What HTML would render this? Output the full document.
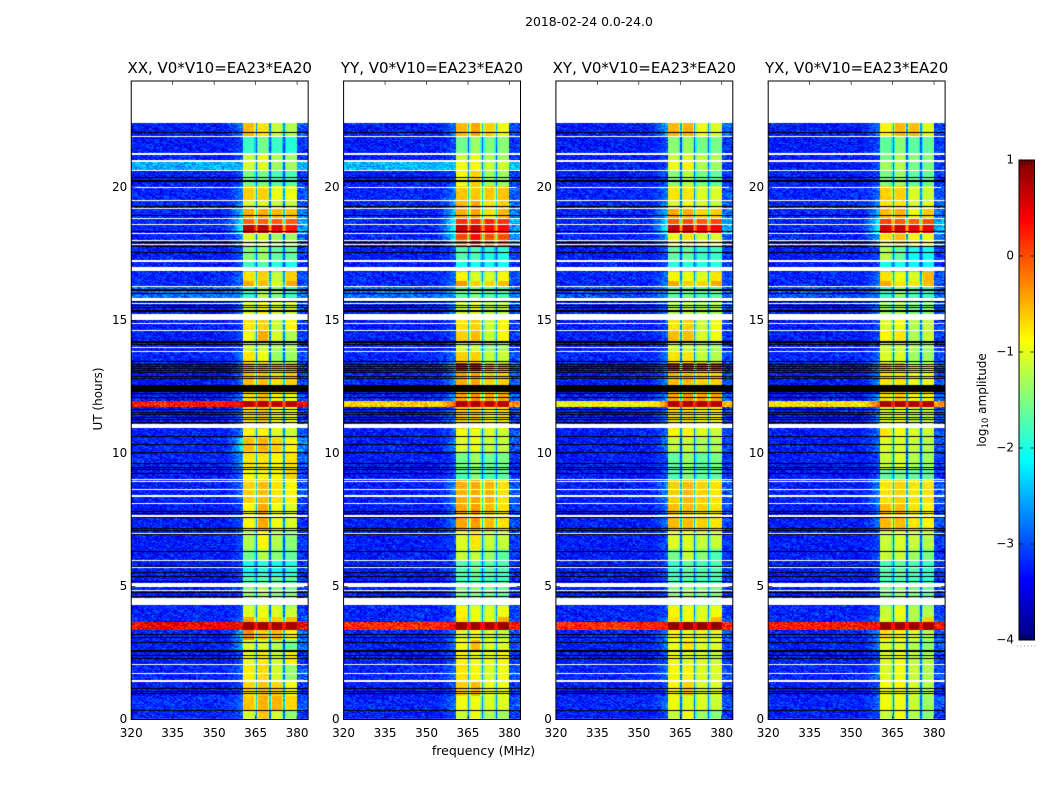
<!DOCTYPE html>
<html lang="en">
<head>
<meta charset="utf-8">
<title>2018-02-24 0.0-24.0 spectrogram</title>
<style>
  html, body { margin: 0; padding: 0; background: #fff; }
  #figure { position: relative; width: 1050px; height: 800px; overflow: hidden; background: #fff; }
  #figure canvas { position: absolute; display: block; }
  #overlay { position: absolute; left: 0; top: 0; }
  text { font-family: "DejaVu Sans", "Liberation Sans", sans-serif; fill: #000; }
</style>
</head>
<body>
<div id="figure">
  <svg id="overlay" width="1050" height="800" viewBox="0 0 1050 800">
    <text x="589" y="26" font-size="12.4" text-anchor="middle">2018-02-24 0.0-24.0</text>
    <text x="483.5" y="755" font-size="12.5" text-anchor="middle">frequency (MHz)</text>
    <text x="0" y="0" font-size="12" text-anchor="middle" transform="translate(102 399) rotate(-90)">UT (hours)</text>
    <text x="0" y="0" font-size="12" text-anchor="middle" transform="translate(986 400) rotate(-90)">log<tspan font-size="8.5" dy="2">10</tspan><tspan dy="-2"> amplitude</tspan></text>
  </svg>
</div>
<script>
// ---------- chart data ----------
const panelTitles = ['XX, V0*V10=EA23*EA20', 'YY, V0*V10=EA23*EA20', 'XY, V0*V10=EA23*EA20', 'YX, V0*V10=EA23*EA20'];
const freqTicks = [320, 335, 350, 365, 380];
const timeTicks = [0, 5, 10, 15, 20];
const colorTicks = [1, 0, -1, -2, -3, -4];
const channelGaps = [365.3, 370.4, 375.4];
// upper hour of every time band, top of the plot downwards
const bandTops = [22.42,21.90,21.26,20.96,20.62,20.06,19.49,19.19,18.82,18.59,18.25,17.80,17.20,16.82,16.49,16.26,15.77,15.02,14.60,14.19,13.82,13.40,13.14,12.58,12.27,11.97,11.75,10.92,10.58,10.09,9.38,9.00,8.10,7.09,6.41,5.96,5.43,4.98,4.27,3.85,3.67,3.36,2.99,2.54,2.05,1.45,0.88,0.32];
// log10 amplitude per band: background, band-edge tail, sub-band 1..4
const levelsXX = [
[-3.3,-2.7,-.55,-.75,-1.15,-1.25],[-3.3,-3,-1.85,-1.55,-1.85,-1.95],[-3.3,-3,-1.15,-.95,-1.25,-1.35],[-2.55,-2.5,-1.05,-1.05,-1.35,-1.35],
[-3.3,-3,-1.55,-1.55,-1.75,-1.75],[-3.25,-2.7,-.65,-.65,-.95,-.95],[-3.25,-2.7,-1.05,-1.05,-1.15,-1.15],[-3.25,-2.3,-.5,-.5,-.55,-.6],
[-3.25,-2,-.1,-.1,-.1,-.1],[-3.25,-1.9,.7,.7,.5,.3],[-3.25,-2.6,-1.05,-1.05,-1.35,-1.35],[-3.3,-3,-1.45,-1.35,-1.65,-1.65],
[-3.3,-3,-1.85,-1.75,-1.95,-2.05],[-3.25,-2.8,-.75,-.65,-1.15,-.65],[-3.25,-2.8,-.45,-.55,-1.05,-.45],[-2.85,-2.6,-1.85,-1.25,-1.45,-1.85],
[-3.3,-2.8,-1.05,-.85,-1.05,-1.05],[-3.3,-3,-.75,-.65,-1.15,-.85],[-3.3,-3,-.95,-.45,-1.05,-1.25],[-3.3,-3,-1.15,-1.15,-1.35,-1.35],
[-3.25,-2.8,-.75,-.95,-1.35,-1.35],[-3.35,-2.8,-.45,-.45,-.55,-.45],[-3.35,-2.8,-.55,-.55,-.75,-.65],[-3.35,-3,-.65,-.65,-.65,-.65],
[-3.3,-2.7,-.75,-.55,-.85,-.95],[.25,.4,.75,.75,.7,.7],[-3.3,-2.8,-.75,-.65,-.95,-.95],[-3.3,-2.7,-.85,-.85,-1.05,-1.15],
[-3.25,-2.1,-.55,-.5,-.65,-.85],[-3.25,-2.6,-.75,-.75,-.85,-.75],[-3.3,-2.8,-.85,-.85,-.85,-.65],[-3.3,-2.8,-.65,-.55,-.75,-.85],
[-3.3,-3,-.85,-.45,-.95,-1.05],[-3.3,-3,-1.25,-.85,-1.25,-1.45],[-3.3,-3,-1.55,-1.25,-1.45,-1.65],[-3.3,-3,-2.05,-1.95,-2.05,-1.95],
[-3.3,-3,-1.75,-1.65,-1.65,-1.65],[-3.3,-3,-1.45,-1.25,-1.45,-1.55],[-3.25,-3,-1.05,-.95,-1.05,-1.15],[-3.25,-2.8,-.45,-.75,-.65,-.55],
[.4,.3,.85,.85,.8,.8],[-3.25,-2.4,-.35,-.65,-.55,-.85],[-3.3,-2.5,-1.05,-1.05,-1.25,-1.55],[-3.3,-3,-1,-.8,-1.1,-.8],
[-3.25,-2.8,-.8,-.7,-1.1,-1.4],[-3.3,-3,-.7,-.6,-.7,-.9],[-3.2,-2.8,-.6,-.5,-.5,-.7],[-3.25,-3,-1.1,-.6,-1.1,-1.4]];
const levelsYY = [
[-3.3,-2.8,-.55,-.45,-.65,-.95],[-3.3,-3,-1.55,-1.35,-1.45,-1.45],[-3.3,-3,-1.15,-.95,-1.25,-1.35],[-2.5,-2.4,-.95,-.85,-1.15,-1.15],
[-3.3,-3,-.95,-.65,-1.35,-1.35],[-3.25,-2.7,-.6,-.6,-.6,-.6],[-3.25,-2.5,-.55,-.45,-.75,-.65],[-3.25,-2.3,-.5,-.45,-.75,-.55],
[-3.25,-1.9,.15,.15,.2,.1],[-3.25,-1.9,.65,.65,.35,.35],[-3.25,-2.2,.05,.35,0,0],[-3.3,-3,-1.75,-1.75,-1.95,-1.95],
[-3.3,-3,-2.05,-2.05,-2.05,-2.05],[-3.25,-2.8,-.85,-1.05,-1.05,-.85],[-3.25,-2.8,-.35,-.65,-.65,-.55],[-2.85,-2.6,-1.65,-1.45,-1.65,-1.75],
[-3.3,-2.8,-1.15,-.95,-1.15,-1.15],[-3.3,-3,-.75,-.65,-1.15,-.85],[-3.3,-3,-.65,-.55,-1.15,-.85],[-3.3,-3,-1.15,-1.15,-1.35,-1.35],
[-3.25,-2.8,-.65,-.65,-1.15,-1.15],[-3.25,-2.4,.45,.45,-.35,-.35],[-3.25,-2.6,-.45,-.45,-.65,-.65],[-3.35,-3,-.65,-.65,-.65,-.65],
[-3.25,-2.5,-.45,-.35,-.45,-.45],[-.7,0,.8,.75,.7,.7],[-3.3,-2.8,-.65,-.65,-.85,-.75],[-3.3,-2.8,-.95,-.95,-1.05,-1.15],
[-3.3,-2.7,-1.05,-.95,-1.15,-1.15],[-3.3,-3,-1.55,-1.35,-1.55,-1.55],[-3.3,-3,-1.75,-1.45,-1.65,-1.65],[-3.3,-2.7,-.5,-.45,-.5,-.75],
[-3.3,-2.8,-.45,-.4,-.55,-.75],[-3.3,-3,-1.05,-.75,-1.15,-1.15],[-3.3,-3,-1.15,-1.15,-1.35,-1.65],[-3.3,-3,-1.75,-1.55,-1.65,-1.75],
[-3.3,-3,-1.75,-1.65,-1.75,-1.75],[-3.3,-3,-1.55,-1.45,-1.55,-1.65],[-3.25,-3,-.85,-.95,-1.05,-.95],[-3.25,-2.8,-.75,-.95,-.95,-.5],
[.15,.3,.85,.85,.85,.85],[-3.25,-2.7,-1.05,-.95,-1.05,-1.15],[-3.3,-2.8,-.95,-.55,-1.05,-1.05],[-3.3,-3,-.85,-.95,-.95,-.85],
[-3.25,-2.8,-.75,-.85,-1.05,-.95],[-3.3,-3,-.65,-.55,-.95,-.95],[-3.25,-2.8,-.95,-.95,-1.05,-1.05],[-3.3,-3,-1.15,-.95,-1.25,-1.35]];
const levelsXY = [
[-3.3,-2.5,-.55,-.5,-.95,-1.05],[-3.3,-3,-1.45,-1.35,-1.55,-1.55],[-3.3,-3,-1.15,-1.05,-1.15,-1.25],[-3.3,-3,-.95,-.85,-1.25,-1.35],
[-3.3,-3,-1.45,-1.25,-1.55,-1.65],[-3.25,-2.8,-.75,-.75,-1.05,-1.05],[-3.25,-2.7,-1.05,-.95,-1.05,-1.15],[-3.25,-2.4,-.45,-.5,-.7,-.65],
[-3.25,-2,-.05,0,-.1,0],[-3.25,-1.9,.65,.65,.5,.4],[-3.25,-2.6,-.95,-.75,-1.05,-1.05],[-3.3,-3,-1.65,-1.65,-1.85,-1.85],
[-3.3,-3,-1.95,-1.95,-1.95,-1.95],[-3.25,-2.8,-.85,-.95,-1.05,-.75],[-3.25,-2.8,-.45,-.65,-.65,-.45],[-3,-2.7,-1.65,-1.55,-1.65,-1.65],
[-3.3,-2.8,-1.25,-1.15,-1.25,-1.25],[-3.3,-3,-.75,-.65,-1.15,-.95],[-3.3,-3,-.55,-.55,-1.05,-.95],[-3.3,-3,-1.15,-1.15,-1.25,-1.35],
[-3.25,-2.8,-.75,-.75,-1.15,-1.25],[-3.35,-2.8,.4,.4,.2,.2],[-3.3,-2.7,-.55,-.55,-.65,-.65],[-3.35,-3,-.65,-.65,-.65,-.65],
[-3.25,-2.5,-.45,-.35,-.45,-.45],[-.9,-.2,.75,.75,.75,.75],[-3.3,-2.8,-.75,-.75,-.85,-.85],[-3.3,-2.8,-.85,-.85,-1.05,-1.15],
[-3.3,-2.8,-1.15,-1.15,-1.25,-1.25],[-3.3,-3,-1.65,-1.35,-1.65,-1.55],[-3.3,-3,-1.75,-1.45,-1.65,-1.65],[-3.3,-2.7,-.65,-.55,-.65,-.75],
[-3.3,-2.8,-.55,-.55,-.65,-.75],[-3.3,-3,-1.05,-1.05,-1.15,-1.15],[-3.3,-3,-1.55,-1.15,-1.45,-1.75],[-3.3,-3,-1.85,-1.65,-1.75,-1.75],
[-3.3,-3,-1.75,-1.65,-1.75,-1.75],[-3.3,-3,-1.45,-1.35,-1.45,-1.55],[-3.25,-3,-.85,-.95,-1.05,-.95],[-3.25,-2.8,-.75,-.95,-.95,-.55],
[.15,.25,.9,.9,.9,.9],[-3.25,-2.7,-.85,-.95,-.95,-1.05],[-3.3,-2.8,-.95,-.75,-1.05,-1.05],[-3.3,-3,-.95,-1.05,-1.05,-1.15],
[-3.25,-2.8,-.85,-.85,-1.05,-1.05],[-3.3,-3,-.85,-.65,-1.05,-1.05],[-3.25,-2.8,-.95,-1.05,-1.05,-1.15],[-3.3,-3,-1.15,-.95,-1.35,-1.45]];
const levelsYX = [
[-3.3,-2.8,-.85,-.55,-.55,-1.05],[-3.3,-3,-1.65,-1.45,-1.65,-1.65],[-3.3,-3,-1.55,-1.25,-1.45,-1.45],[-3.3,-3,-1.35,-1.25,-1.55,-1.55],
[-3.3,-3,-1.55,-1.35,-1.65,-1.65],[-3.25,-2.8,-.65,-.65,-1.05,-1.15],[-3.25,-2.6,-.75,-.75,-1.05,-1.05],[-3.25,-2.4,-.55,-.5,-.95,-.65],
[-3.25,-1.9,.05,-.05,-.1,0],[-3.25,-1.9,.55,.6,.5,.45],[-3.25,-2.5,-.75,-.55,-.85,-.95],[-3.3,-3,-1.25,-1.65,-2.05,-2.05],
[-3.3,-3,-2.05,-2.05,-2.15,-2.15],[-3.25,-2.8,-.75,-.95,-1.05,-.55],[-3.25,-2.8,-.45,-.75,-.75,-.55],[-3,-2.7,-1.85,-1.45,-1.75,-1.85],
[-3.3,-2.8,-1.35,-1.25,-1.45,-1.45],[-3.3,-3,-1.05,-.95,-1.25,-1.15],[-3.3,-3,-.85,-.75,-1.25,-1.15],[-3.3,-3,-1.15,-1.15,-1.35,-1.35],
[-3.25,-2.8,-1.05,-1.05,-1.35,-1.35],[-3.25,-2.6,-.45,-.45,-.95,-.95],[-3.3,-2.7,-.75,-.75,-.95,-.95],[-3.35,-3,-.65,-.65,-.65,-.65],
[-3.3,-2.5,-.75,-.65,-.85,-.85],[-.8,0,.8,.8,.75,.75],[-3.3,-2.7,-1.05,-.95,-1.15,-1.15],[-3.3,-2.8,-.75,-.95,-1.05,-1.15],
[-3.3,-2.8,-1.05,-1.05,-1.15,-1.25],[-3.3,-3,-1.15,-1.05,-1.25,-1.35],[-3.3,-3,-1.65,-1.55,-1.65,-1.65],[-3.3,-2.7,-.75,-.65,-.75,-.75],
[-3.3,-2.8,-.55,-.55,-.75,-.85],[-3.3,-3,-1.15,-1.05,-1.15,-1.25],[-3.3,-3,-1.15,-1.15,-1.35,-1.55],[-3.3,-3,-1.75,-1.65,-1.75,-1.85],
[-3.3,-3,-1.75,-1.65,-1.75,-1.85],[-3.3,-3,-1.55,-1.35,-1.55,-1.65],[-3.25,-3,-1.15,-.95,-1.25,-1.25],[-3.25,-2.8,-1.05,-1.05,-1.25,-.65],
[.25,.3,.85,.85,.85,.85],[-3.25,-2.6,-.75,-.85,-1.05,-1.25],[-3.3,-2.7,-1.05,-1.05,-1.25,-1.45],[-3.3,-3,-1.05,-.95,-1.15,-1.25],
[-3.25,-2.8,-1.05,-.95,-1.15,-1.25],[-3.3,-3,-.95,-.85,-1.05,-1.25],[-3.25,-2.8,-.95,-.95,-1.15,-1.35],[-3.3,-3,-1.15,-.95,-1.25,-1.45]];
// hours with no data (white) and with zero amplitude (black): [upper hour, lower hour]
const flaggedHours = [[21.94,21.90],[21.29,21.23],[21.02,20.94],[20.65,20.62],[20.02,19.98],[19.52,19.48],[19.23,19.19],[18.85,18.82],[18.62,18.59],[18.29,18.25],[18.03,17.99],[17.86,17.82],[17.27,17.18],[17.01,16.84],[16.29,16.25],[15.83,15.73],[15.66,15.62],[15.23,15.02],[14.91,14.88],[14.64,14.61],[14.00,13.95],[13.87,13.80],[11.11,10.94],[9.04,9.00],[8.97,8.93],[8.67,8.63],[8.42,8.38],[8.14,8.10],[7.67,7.61],[7.01,6.97],[6.00,5.96],[5.73,5.70],[5.12,4.98],[4.87,4.83],[4.57,4.30],[2.09,2.05],[1.75,1.71],[1.48,1.41]];
const zeroHours = [[22.07,22.03],[20.41,20.37],[20.27,20.19],[19.29,19.25],[18.96,18.92],[18.38,18.34],[17.94,17.90],[17.79,17.75],[17.56,17.52],[16.19,16.11],[16.05,16.01],[15.73,15.69],[15.57,15.53],[15.49,15.45],[15.41,15.37],[15.34,15.30],[14.24,14.16],[14.10,14.06],[13.46,13.42],[13.38,13.34],[13.29,13.25],[13.22,13.18],[13.14,13.10],[13.05,13.01],[12.93,12.89],[12.82,12.78],[12.58,12.31],[12.28,12.24],[12.11,12.07],[11.66,11.62],[11.56,11.52],[11.47,11.43],[11.37,11.33],[11.28,11.24],[11.19,11.15],[10.64,10.60],[10.34,10.30],[10.05,10.01],[9.66,9.62],[9.49,9.45],[9.40,9.36],[9.25,9.21],[7.83,7.79],[7.76,7.72],[7.63,7.59],[7.20,7.16],[7.11,7.07],[6.96,6.92],[6.33,6.29],[5.76,5.72],[5.53,5.49],[5.41,5.35],[5.19,5.15],[4.81,4.77],[4.66,4.62],[3.23,3.19],[3.09,3.05],[2.90,2.86],[2.63,2.52],[2.44,2.40],[2.33,2.29],[1.20,1.16],[1.09,1.05],[0.98,0.94],[0.35,0.31]];
// hand-typed cell-to-cell speckle in log10 amplitude (approximates the visible grain)
const speckle = [.12,-.21,.33,-.05,.27,-.3,.08,.41,-.16,-.02,.22,-.35,.18,.05,-.25,.37,-.11,.14,-.28,.02,.3,-.19,.09,-.07,.44,-.33,.16,-.13,.25,-.24,.04,.35,-.09,-.27,.2,.11,-.38,.29,-.04,.07,-.17,.39,-.22,.13,-.01,.24,-.31,.06,.17,-.12,.31,-.26,.1];

const panelLevels = [levelsXX, levelsYY, levelsXY, levelsYX];

// ---------- layout and scales ----------
const panelLefts = [131.25, 343.6, 555.9, 768.2];
const panelWidth = 176.9;
const axisTop = 81;
const axisBottom = 719.5;
const freqMin = 320;
const freqMax = 384;
const hourMin = 0;
const hourMax = 24;
const colorMin = -4;
const colorMax = 1;
const barLeft = 1019;
const barRight = 1034.5;
const barTop = 160;
const barBottom = 640;
const channelStep = 0.5;
const rowStep = 0.0376;

function xScale(freq, panel) {
  return panelLefts[panel] + (freq - freqMin) / (freqMax - freqMin) * panelWidth;
}
function yScale(hour) {
  return axisBottom - (hour - hourMin) / (hourMax - hourMin) * (axisBottom - axisTop);
}
function colorY(value) {
  return barBottom - (value - colorMin) / (colorMax - colorMin) * (barBottom - barTop);
}
function jet(value) {
  const p = Math.max(0, Math.min(1, (value - colorMin) / (colorMax - colorMin)));
  const ramp = function (q) { return Math.max(0, Math.min(1, Math.min(4 * q - 0.5, -4 * q + 3.5))); };
  const r = Math.round(255 * ramp(p - 0.25));
  const g = Math.round(255 * ramp(p));
  const b = Math.round(255 * ramp(p + 0.25));
  return 'rgb(' + r + ',' + g + ',' + b + ')';
}
function bandIndex(hour) {
  let index = 0;
  for (let i = 0; i < bandTops.length; i++) {
    if (hour <= bandTops[i]) index = i;
  }
  return index;
}
function cellLevel(row, freq) {
  const bg = row[0];
  const tail = row[1];
  if (freq < 352) return { v: bg, grain: 1 };
  if (freq < 360.5) return { v: bg + (tail - bg) * Math.pow((freq - 352) / 8.5, 2), grain: 0.8 };
  if (freq >= 380) return { v: bg + (tail - bg) * 0.5, grain: 1 };
  const mean = (row[2] + row[3] + row[4] + row[5]) / 4;
  let s = row[2];
  if (freq >= channelGaps[0]) s = row[3];
  if (freq >= channelGaps[1]) s = row[4];
  if (freq >= channelGaps[2]) s = row[5];
  for (let g = 0; g < channelGaps.length; g++) {
    const d = Math.abs(freq - channelGaps[g]);
    if (d < 0.3) return { v: Math.max(-3, mean - 1.8 + Math.max(0, mean) * 1.4), grain: 0.5 };
    if (d < 0.65) s = s - 0.5;
  }
  return { v: s, grain: 0.22 };
}

// ---------- drawing ----------
const figure = document.getElementById('figure');
const overlay = document.getElementById('overlay');
const svgNS = 'http://www.w3.org/2000/svg';

function addLine(x1, y1, x2, y2, name, stroke, width) {
  const el = document.createElementNS(svgNS, 'line');
  el.setAttribute('x1', x1);
  el.setAttribute('y1', y1);
  el.setAttribute('x2', x2);
  el.setAttribute('y2', y2);
  el.setAttribute('stroke', stroke);
  el.setAttribute('stroke-width', width);
  
  
  overlay.appendChild(el);
}
function addText(x, y, anchor, size, content, name) {
  const el = document.createElementNS(svgNS, 'text');
  el.setAttribute('x', x);
  el.setAttribute('y', y);
  el.setAttribute('text-anchor', anchor);
  el.setAttribute('font-size', size);
  el.textContent = content;
  
  
  overlay.appendChild(el);
}
function addFrame(x, y, w, h, name) {
  const el = document.createElementNS(svgNS, 'rect');
  el.setAttribute('x', x);
  el.setAttribute('y', y);
  el.setAttribute('width', w);
  el.setAttribute('height', h);
  el.setAttribute('fill', 'none');
  el.setAttribute('stroke', '#000');
  el.setAttribute('stroke-width', 1);
  
  
  overlay.appendChild(el);
}

function drawPanel(p) {
  const left = Math.round(panelLefts[p]);
  const top = Math.round(axisTop);
  const xEnd = Math.round(xScale(freqMax, p));
  const w = xEnd - left;
  const h = Math.ceil(axisBottom - axisTop) + 1;
  const canvas = document.createElement('canvas');
  canvas.width = w;
  canvas.height = h;
  canvas.style.left = left + 'px';
  canvas.style.top = top + 'px';
  
  
  figure.insertBefore(canvas, overlay);
  const ctx = canvas.getContext('2d');
  const levels = panelLevels[p];
  const nRows = Math.round(bandTops[0] / rowStep);
  const nCols = Math.round((freqMax - freqMin) / channelStep);
  for (let r = 0; r < nRows; r++) {
    const hourTop = bandTops[0] - r * rowStep;
    const y0 = Math.round(yScale(hourTop));
    const y1 = Math.round(yScale(hourTop - rowStep));
    const row = levels[bandIndex(hourTop - rowStep / 2)];
    for (let c = 0; c < nCols; c++) {
      const freq = freqMin + c * channelStep;
      const cell = cellLevel(row, freq + channelStep / 2);
      const grain = speckle[(r * 31 + c * 17 + ((r * c) % 7) * 5 + p * 11) % speckle.length];
      ctx.fillStyle = jet(cell.v + grain * cell.grain);
      const x0 = Math.round(xScale(freq, p));
      const x1 = c === nCols - 1 ? xEnd : Math.round(xScale(freq + channelStep, p));
      ctx.fillRect(x0 - left, y0 - top, x1 - x0, y1 - y0);
    }
  }
  function stripes(list, color) {
    ctx.fillStyle = color;
    list.forEach(function (pair) {
      const y0 = Math.round(yScale(pair[0]));
      const y1 = Math.max(y0 + 1, Math.round(yScale(pair[1])));
      ctx.fillRect(0, y0 - top, w, y1 - y0);
    });
  }
  stripes(zeroHours, '#000');
  stripes(flaggedHours, '#fff');
}

function drawAxes(p) {
  const x0 = xScale(freqMin, p);
  const x1 = xScale(freqMax, p);
  const key = panelTitles[p].slice(0, 2).toLowerCase();
  addFrame(x0, axisTop, panelWidth, axisBottom - axisTop, 'axes-frame-' + key);
  freqTicks.forEach(function (f) {
    const x = xScale(f, p);
    addLine(x, axisBottom, x, axisBottom - 4, 'x-tick-bottom-' + key, '#000', 0.6);
    addLine(x, axisTop, x, axisTop + 4, 'x-tick-top-' + key, '#000', 0.6);
    addText(x, 737, 'middle', 12, String(f), 'x-tick-label-' + key);
  });
  timeTicks.forEach(function (t) {
    const y = yScale(t);
    addLine(x0, y, x0 + 4, y, 'y-tick-left-' + key, '#000', 0.6);
    addLine(x1, y, x1 - 4, y, 'y-tick-right-' + key, '#000', 0.6);
    addText(x0 - 4, y + 3.5, 'end', 12, String(t), 'y-tick-label-' + key);
  });
  addText((x0 + x1) / 2, 73, 'middle', 15, panelTitles[p], 'panel-title-' + key);
}

function drawColorbar() {
  const canvas = document.createElement('canvas');
  canvas.width = Math.ceil(barRight - barLeft);
  canvas.height = barBottom - barTop;
  canvas.style.left = barLeft + 'px';
  canvas.style.top = barTop + 'px';
  
  
  figure.insertBefore(canvas, overlay);
  const ctx = canvas.getContext('2d');
  for (let i = 0; i < canvas.height; i++) {
    const value = colorMax - (i + 0.5) / canvas.height * (colorMax - colorMin);
    ctx.fillStyle = jet(value);
    ctx.fillRect(0, Math.round(colorY(value) - barTop - 0.5), canvas.width, 1);
  }
  addFrame(barLeft, barTop, barRight - barLeft, barBottom - barTop, 'colorbar-frame');
  colorTicks.forEach(function (v) {
    const y = colorY(v);
    const label = v < 0 ? '\u2212' + Math.abs(v) : String(v);
    if (v !== colorMax && v !== colorMin) {
      addLine(barLeft, y, barLeft + 4, y, 'colorbar-tick-left', '#000', 0.7);
      addLine(barRight, y, barRight - 4, y, 'colorbar-tick-right', '#000', 0.7);
    }
    addText(barLeft - 5, y + 3.5, 'end', 12, label, 'colorbar-tick-label');
  });
  const minorOffsets = [3, 6, 9, 12];
  minorOffsets.forEach(function (dx) {
    addLine(barLeft + dx, barTop, barLeft + dx, barTop + 5, 'colorbar-minor-tick-top', '#000', 0.6);
    addLine(barLeft + dx, barBottom, barLeft + dx, barBottom - 5, 'colorbar-minor-tick-bottom', '#000', 0.6);
  });
  const dotOffsets = [-2, 1.5, 5, 8.5, 12, 15.5];
  dotOffsets.forEach(function (dx) {
    addLine(barLeft + dx, 646, barLeft + dx + 1, 646, 'colorbar-clipped-label-dot', '#999', 1);
  });
}

panelLevels.forEach(function (_, p) {
  drawPanel(p);
  drawAxes(p);
});
drawColorbar();
</script>
</body>
</html>
